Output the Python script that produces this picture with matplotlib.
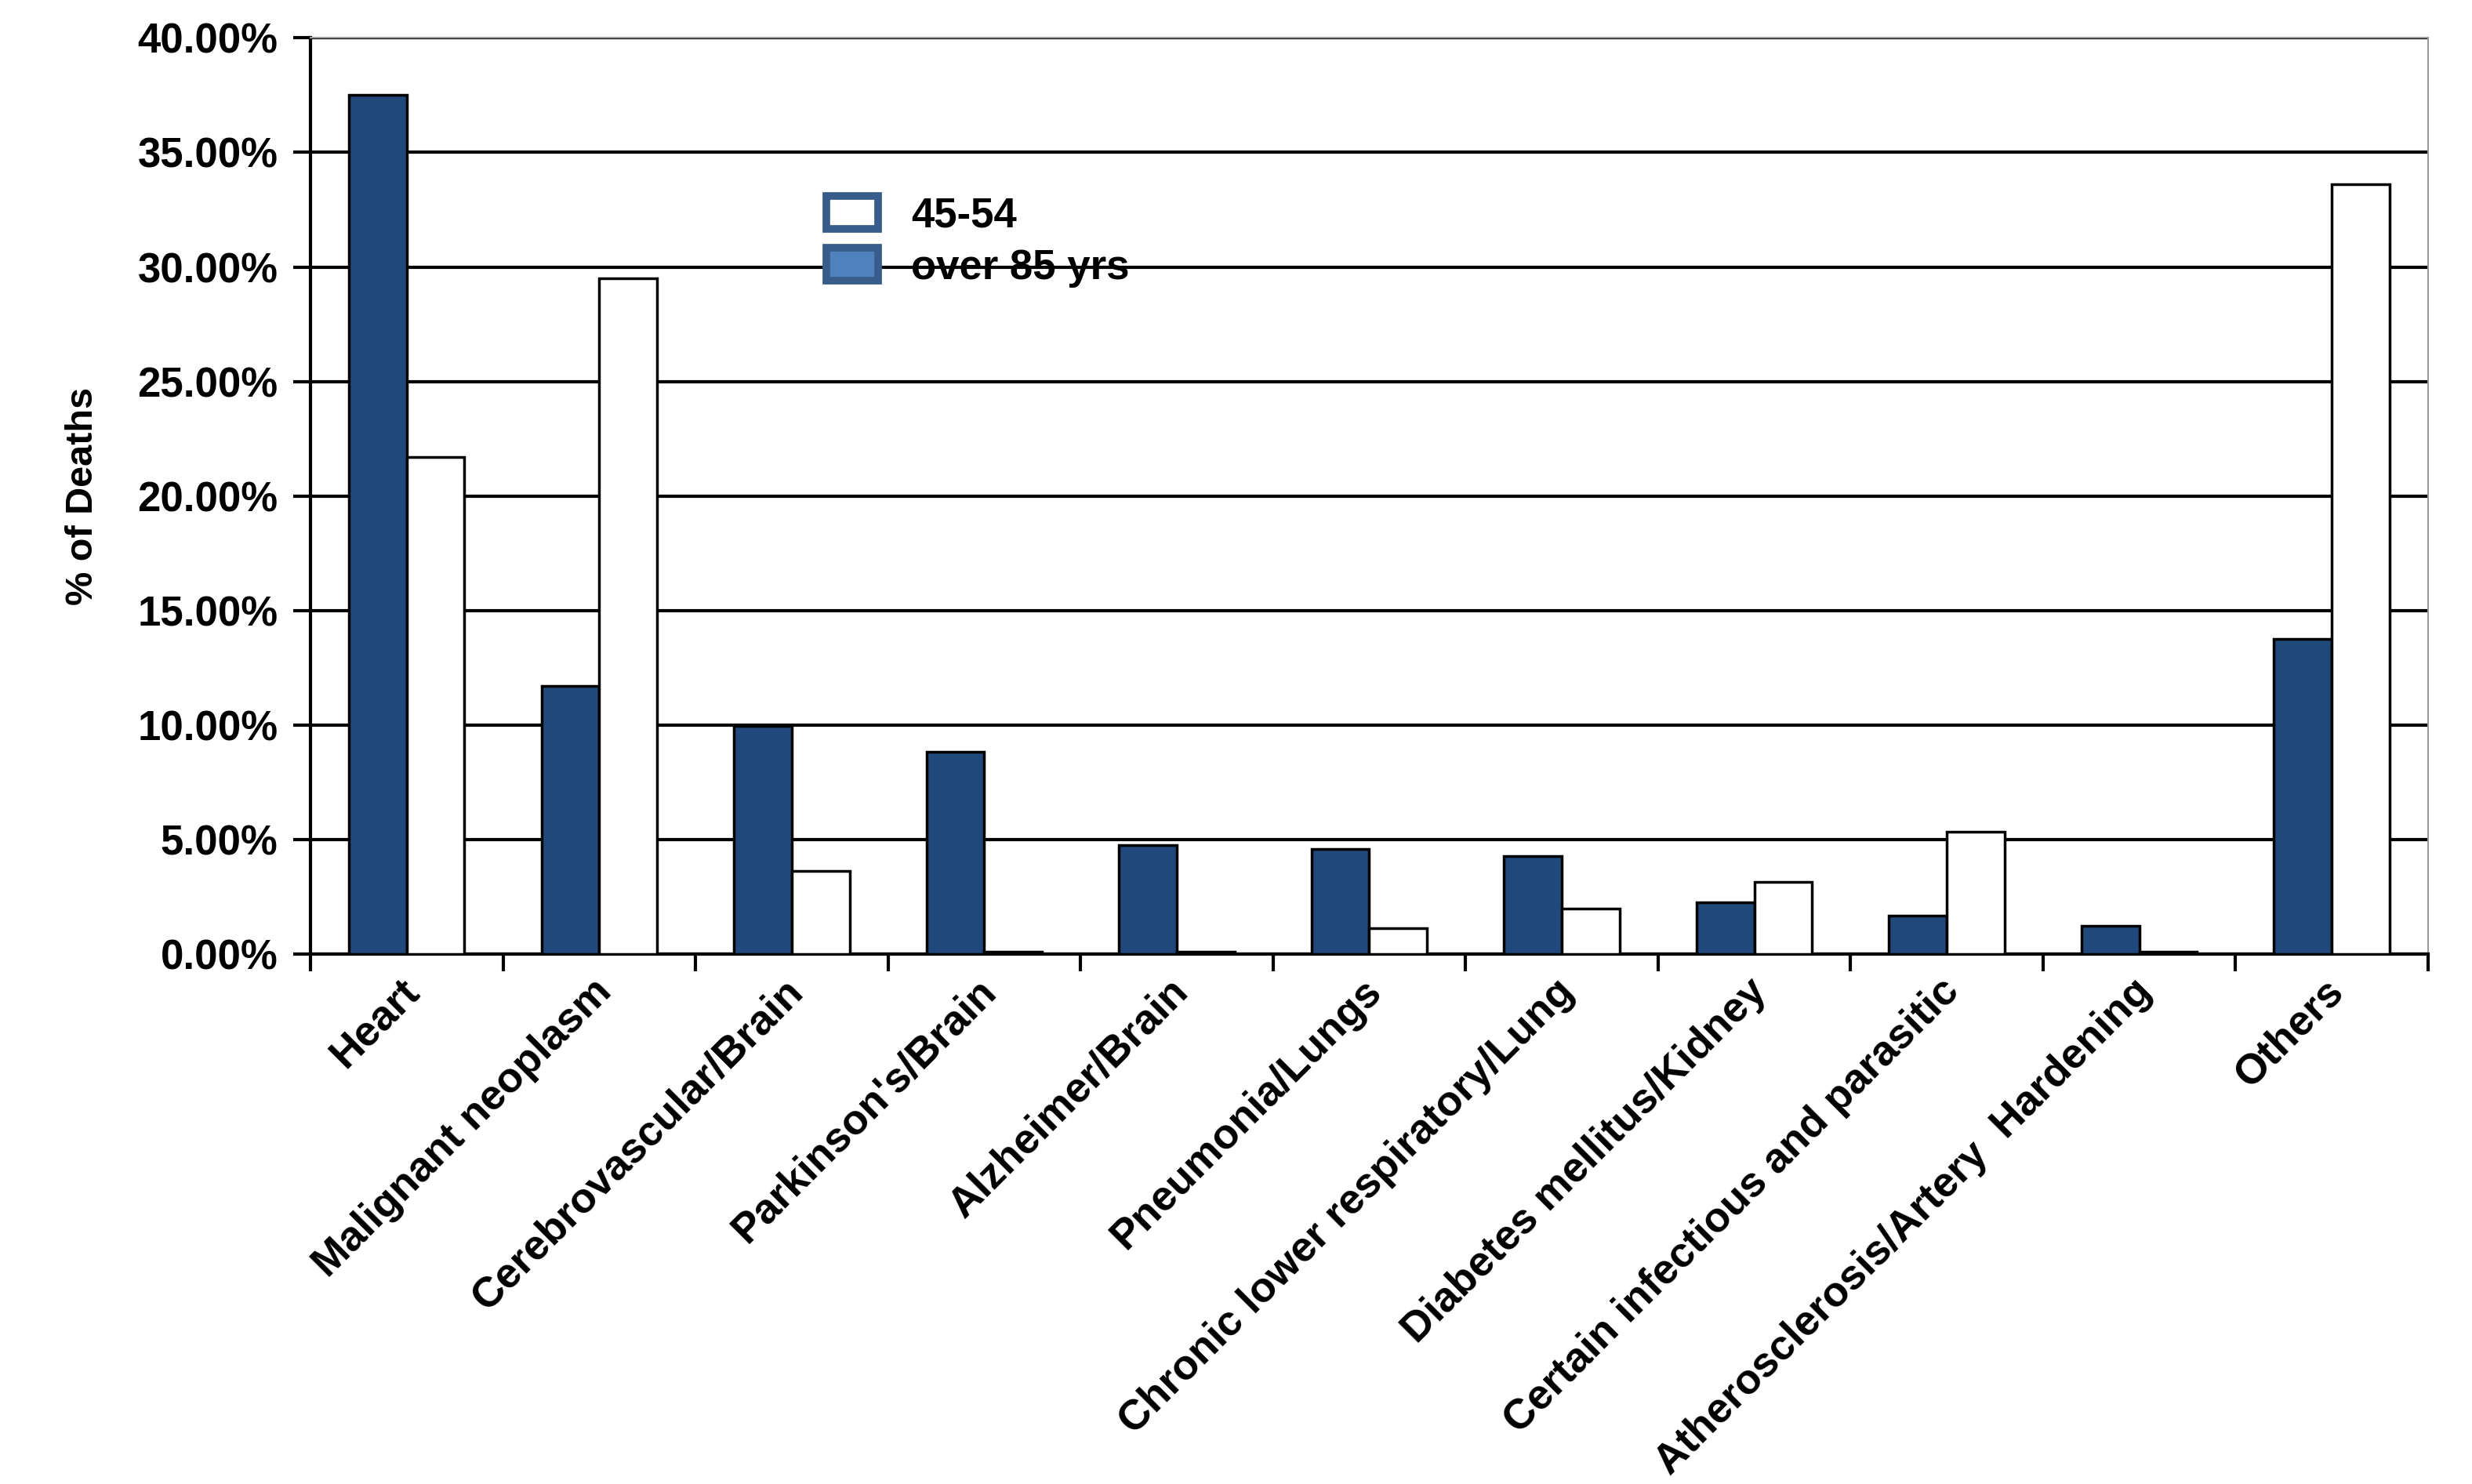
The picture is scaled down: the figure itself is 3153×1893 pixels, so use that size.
import matplotlib
matplotlib.use("Agg")
import matplotlib.pyplot as plt
from matplotlib.patches import Patch
from matplotlib.ticker import FuncFormatter, MultipleLocator, FixedLocator
import matplotlib.transforms as mtransforms
import numpy as np

categories = ["Heart", "Malignant neoplasm", "Cerebrovascular/Brain", "Parkinson's/Brain",
              "Alzheimer/Brain", "Pneumonia/Lungs", "Chronic lower respiratory/Lung",
              "Diabetes mellitus/Kidney", "Certain infectious and parasitic",
              "Atherosclerosis/Artery  Hardening", "Others"]
over85 = [37.5, 11.7, 9.95, 8.85, 4.75, 4.6, 4.3, 2.25, 1.7, 1.25, 13.75]
age45_54 = [21.7, 29.5, 3.65, 0.1, 0.1, 1.15, 2.0, 3.15, 5.35, 0.1, 33.6]
series_labels = ["45-54", "over 85 yrs"]

plt.rcParams['font.family'] = ['Liberation Sans', 'DejaVu Sans']
plt.rcParams['font.weight'] = 'bold'
plt.rcParams['axes.labelweight'] = 'bold'

fig = plt.figure(figsize=(31.53, 18.93), dpi=100)
ax = fig.add_axes([0.1256, 0.357, 0.8566, 0.6175])

x = np.arange(len(categories))
w = 0.3
ax.bar(x - w/2, over85, width=w, color='#21487A', edgecolor='black', linewidth=2.5, zorder=3)
ax.bar(x + w/2, age45_54, width=w, color='white', edgecolor='black', linewidth=2.5, zorder=3)

ax.set_xlim(-0.5, len(categories) - 0.5)
ax.set_ylim(0, 40)
ax.yaxis.set_major_locator(MultipleLocator(5))
ax.yaxis.set_major_formatter(FuncFormatter(lambda v, p: f"{v:.2f}%"))
ax.grid(axis='y', color='black', linewidth=3, zorder=0)
ax.set_axisbelow(True)

ax.spines['left'].set_linewidth(3)
ax.spines['bottom'].set_linewidth(3)
ax.spines['top'].set_color('#999999')
ax.spines['top'].set_linewidth(1.5)
ax.spines['right'].set_color('#999999')
ax.spines['right'].set_linewidth(1.5)

ax.tick_params(axis='y', direction='out', length=16, width=3, labelsize=38, pad=14)
ax.set_xticks(x)
ax.set_xticklabels(categories, rotation=45, ha='right', rotation_mode='anchor', fontsize=38.5)
ax.tick_params(axis='x', which='major', length=0, pad=16)
ax.xaxis.set_minor_locator(FixedLocator(np.arange(-0.5, len(categories), 1.0)))
ax.tick_params(axis='x', which='minor', direction='out', length=16, width=3)
offset = mtransforms.ScaledTranslation(-0.1, 0, fig.dpi_scale_trans)
for t in ax.get_xticklabels():
    t.set_transform(t.get_transform() + offset)

ax.set_ylabel("% of Deaths", fontsize=35, labelpad=34)

handles = [Patch(facecolor='white', edgecolor='#385D8A', linewidth=7),
           Patch(facecolor='#4F81BD', edgecolor='#385D8A', linewidth=7)]
leg = ax.legend(handles, series_labels, loc='upper left', bbox_to_anchor=(0.226, 0.868),
                frameon=False, fontsize=38, handlelength=1.25, handleheight=0.85,
                handletextpad=0.8, labelspacing=0.3)

fig.savefig("out.png", dpi=100, facecolor='white')
